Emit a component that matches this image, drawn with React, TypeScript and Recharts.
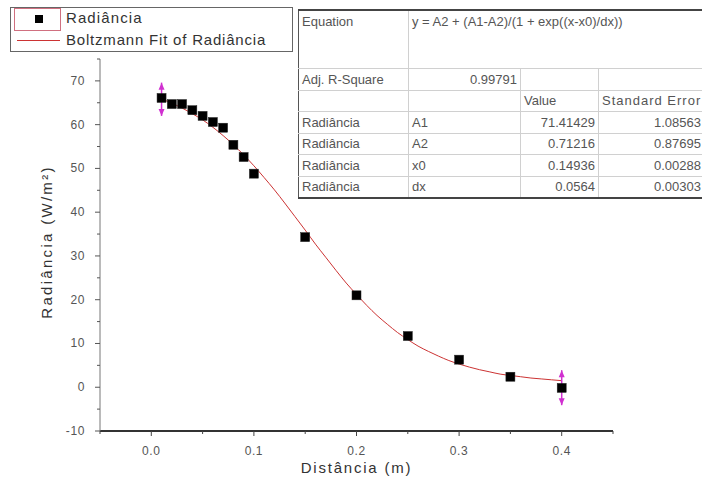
import React from 'react';
import { ComposedChart, Line, Scatter, XAxis, YAxis, ErrorBar, Legend, Label } from 'recharts';

// measured data
const distance = [0.01, 0.02, 0.03, 0.04, 0.05, 0.06, 0.07, 0.08, 0.09, 0.10, 0.15, 0.20, 0.25, 0.30, 0.35, 0.40];
const radiance = [66.1, 64.7, 64.7, 63.3, 62.0, 60.6, 59.3, 55.4, 52.6, 48.8, 34.3, 21.0, 11.7, 6.3, 2.4, -0.15];

// fitted curve
const fitX = [0.01, 0.02, 0.03, 0.04, 0.05, 0.06, 0.07, 0.08, 0.09, 0.10, 0.11, 0.12, 0.13, 0.14, 0.15, 0.16, 0.17, 0.18, 0.19, 0.20,
  0.21, 0.22, 0.23, 0.24, 0.25, 0.26, 0.27, 0.28, 0.29, 0.30, 0.31, 0.32, 0.33, 0.34, 0.35, 0.36, 0.37, 0.38, 0.39, 0.40];
const fitY = [65.9, 64.9, 63.8, 62.5, 61.1, 59.4, 57.5, 55.4, 53.1, 50.6, 47.9, 45.1, 42.1, 39.0, 35.9, 32.7, 29.7, 26.7, 23.8, 21.2,
  18.7, 16.4, 14.4, 12.5, 10.9, 9.4, 8.2, 7.1, 6.1, 5.3, 4.6, 4.0, 3.5, 3.0, 2.7, 2.4, 2.1, 1.9, 1.7, 1.5];

// data reader cursors
const cursorX = [0.01, 0.40];
const cursorY = [65.8, -0.1];
const cursorErr = [3.8, 4.0];

const xTicks = [-0.05, 0, 0.05, 0.1, 0.15, 0.2, 0.25, 0.3, 0.35, 0.4, 0.45];
const yTicks = [-10, -5, 0, 5, 10, 15, 20, 25, 30, 35, 40, 45, 50, 55, 60, 65, 70, 75];

const legendNames = ['Radiância', 'Boltzmann Fit of Radiância'];

const tableEquation = 'y = A2 + (A1-A2)/(1 + exp((x-x0)/dx))';
const tableRSquare = '0.99791';
const tableHeader = ['', '', 'Value', 'Standard Error'];
const paramNames = ['A1', 'A2', 'x0', 'dx'];
const paramValues = ['71.41429', '0.71216', '0.14936', '0.0564'];
const paramErrors = ['1.08563', '0.87695', '0.00288', '0.00303'];

const pointsData = distance.map((x, i) => ({ x, y: radiance[i] }));
const fitData = fitX.map((x, i) => ({ x, y: fitY[i] }));
const cursorData = cursorX.map((x, i) => ({ x, y: cursorY[i], err: cursorErr[i] }));
const cursorTop = cursorData.map((d) => ({ x: d.x, y: d.y + d.err }));
const cursorBottom = cursorData.map((d) => ({ x: d.x, y: d.y - d.err }));

const FONT = '"Liberation Sans", Arial, sans-serif';
const TICK_COLOR = '#555';

const XTick = (props: any) => {
  const { x, y, payload } = props;
  const v = payload.value;
  const major = Math.round(v * 100) % 10 === 0;
  return (
    <g>
      <line x1={x} x2={x} y1={y} y2={y + (major ? 5 : 3)} stroke="#444" strokeWidth={1} />
      {major && (
        <text x={x} y={y + 24} textAnchor="middle" fontSize={12} fill={TICK_COLOR} fontFamily={FONT} letterSpacing={0.6}>
          {v.toFixed(1)}
        </text>
      )}
    </g>
  );
};

const YTick = (props: any) => {
  const { x, y, payload } = props;
  const v = payload.value;
  const major = Math.round(v) % 10 === 0;
  return (
    <g>
      <line x1={x} x2={x - (major ? 5 : 3)} y1={y} y2={y} stroke="#555" strokeWidth={1} />
      {major && (
        <text x={x - 15} y={y + 4} textAnchor="end" fontSize={12} fill={TICK_COLOR} fontFamily={FONT} letterSpacing={0.6}>
          {v}
        </text>
      )}
    </g>
  );
};

const SquareShape = (props: any) => {
  const { cx, cy } = props;
  return <rect x={cx - 4.5} y={cy - 4.5} width={9} height={9} fill="#000" stroke="#222" strokeWidth={0.5} />;
};

const ArrowUp = (props: any) => {
  const { cx, cy } = props;
  return <path d={`M${cx},${cy} L${cx - 3},${cy + 7} L${cx + 3},${cy + 7} Z`} fill="#d030d0" />;
};
const ArrowDown = (props: any) => {
  const { cx, cy } = props;
  return <path d={`M${cx},${cy} L${cx - 3},${cy - 7} L${cx + 3},${cy - 7} Z`} fill="#d030d0" />;
};
const NoShape = () => <g />;

const LegendContent = () => (
  <div
    style={{
      width: 281,
      height: 43,
      border: '1px solid #666',
      background: '#fff',
      fontFamily: FONT,
      position: 'relative',
      boxSizing: 'content-box',
    }}
  >
    <div style={{ position: 'absolute', left: 3, top: 0, width: 45, height: 21, border: '1px solid #d07080' }} />
    <div style={{ position: 'absolute', left: 24, top: 7, width: 8, height: 8, background: '#000' }} />
    <div style={{ position: 'absolute', left: 6, top: 32, width: 43, height: 1, background: '#cc3333' }} />
    <div style={{ position: 'absolute', left: 55, top: 1, fontSize: 15, letterSpacing: 1.1, color: '#333', whiteSpace: 'nowrap' }}>
      {legendNames[0]}
    </div>
    <div style={{ position: 'absolute', left: 55, top: 23, fontSize: 15, letterSpacing: 0.8, color: '#333', whiteSpace: 'nowrap' }}>
      {legendNames[1]}
    </div>
  </div>
);

const cellBase: React.CSSProperties = {
  padding: '0 3px',
  height: 20.5,
  lineHeight: '15px',
  fontSize: 13,
  color: '#555',
  whiteSpace: 'nowrap',
  overflow: 'hidden',
  borderBottom: '1px solid #d0d0d0',
  borderRight: '1px solid #d0d0d0',
  verticalAlign: 'middle',
};

const FitTable = () => (
  <table
    style={{
      position: 'absolute',
      left: 298,
      top: 9,
      borderCollapse: 'collapse',
      tableLayout: 'fixed',
      width: 410,
      background: '#fff',
      fontFamily: FONT,
      borderTop: '2px solid #444',
      borderLeft: '1px solid #555',
      borderBottom: '2px solid #444',
    }}
  >
    <colgroup>
      <col style={{ width: 110 }} />
      <col style={{ width: 112 }} />
      <col style={{ width: 78 }} />
      <col style={{ width: 110 }} />
    </colgroup>
    <tbody>
      <tr>
        <td style={{ ...cellBase, height: 54, verticalAlign: 'top', paddingTop: 3 }}>Equation</td>
        <td colSpan={3} style={{ ...cellBase, height: 54, verticalAlign: 'top', paddingTop: 3, borderRight: 'none' }}>
          {tableEquation}
        </td>
      </tr>
      <tr>
        <td style={cellBase}>Adj. R-Square</td>
        <td style={{ ...cellBase, textAlign: 'right' }}>{tableRSquare}</td>
        <td style={cellBase}></td>
        <td style={cellBase}></td>
      </tr>
      <tr>
        {tableHeader.map((h, i) => (
          <td key={i} style={{ ...cellBase, letterSpacing: i === 3 ? 1 : 0 }}>{h}</td>
        ))}
      </tr>
      {paramNames.map((p, i) => (
        <tr key={p}>
          <td style={cellBase}>{legendNames[0]}</td>
          <td style={cellBase}>{p}</td>
          <td style={{ ...cellBase, textAlign: 'right' }}>{paramValues[i]}</td>
          <td style={{ ...cellBase, textAlign: 'right', paddingRight: 7 }}>{paramErrors[i]}</td>
        </tr>
      ))}
    </tbody>
  </table>
);

export default function App() {
  return (
    <div style={{ position: 'absolute', left: 0, top: 0, width: 702, height: 487, overflow: 'hidden', background: '#fff' }}>
      <ComposedChart width={702} height={487} data={fitData} margin={{ top: 59, right: 89, left: 0, bottom: 0 }}>
        <XAxis
          dataKey="x"
          type="number"
          domain={[-0.05, 0.45]}
          ticks={xTicks}
          interval={0}
          height={56}
          tickSize={0}
          tickMargin={0}
          tick={<XTick />}
          axisLine={{ stroke: '#333', strokeWidth: 2 }}
          tickLine={false}
        >
          <Label
            content={(p: any) => {
              const vb = p.viewBox;
              return (
                <text x={vb.x + vb.width / 2} y={vb.y + 42} textAnchor="middle" fontSize={15} fill="#333" fontFamily={FONT} letterSpacing={1.8}>
                  Distância (m)
                </text>
              );
            }}
          />
        </XAxis>
        <YAxis
          dataKey="y"
          type="number"
          domain={[-10, 75]}
          ticks={yTicks}
          interval={0}
          width={100}
          tickSize={0}
          tickMargin={0}
          tick={<YTick />}
          axisLine={{ stroke: '#777', strokeWidth: 1 }}
          tickLine={false}
        >
          <Label
            content={(p: any) => {
              const vb = p.viewBox;
              const cx = vb.x + 52;
              const cy = vb.y + vb.height / 2 - 3;
              return (
                <text x={cx} y={cy} transform={`rotate(-90 ${cx} ${cy})`} textAnchor="middle" fontSize={15} fill="#333" fontFamily={FONT} letterSpacing={2.3}>
                  Radiância (W/m²)
                </text>
              );
            }}
          />
        </YAxis>
        <Legend
          layout="vertical"
          align="center"
          verticalAlign="middle"
          content={<LegendContent />}
          wrapperStyle={{ position: 'absolute', left: 10, top: 7, width: 283, height: 45 }}
        />
        <Line
          dataKey="y"
          name={legendNames[1]}
          type="monotone"
          stroke="#cc3333"
          strokeWidth={1}
          dot={false}
          isAnimationActive={false}
        />
        <Scatter data={pointsData} dataKey="y" name={legendNames[0]} shape={<SquareShape />} legendType="square" isAnimationActive={false} />
        <Scatter data={cursorData} dataKey="y" shape={<NoShape />} legendType="none" isAnimationActive={false}>
          <ErrorBar dataKey="err" direction="y" width={0} stroke="#d030d0" strokeWidth={1.5} isAnimationActive={false} />
        </Scatter>
        <Scatter data={cursorTop} dataKey="y" shape={<ArrowUp />} legendType="none" isAnimationActive={false} />
        <Scatter data={cursorBottom} dataKey="y" shape={<ArrowDown />} legendType="none" isAnimationActive={false} />
      </ComposedChart>
      <FitTable />
    </div>
  );
}
